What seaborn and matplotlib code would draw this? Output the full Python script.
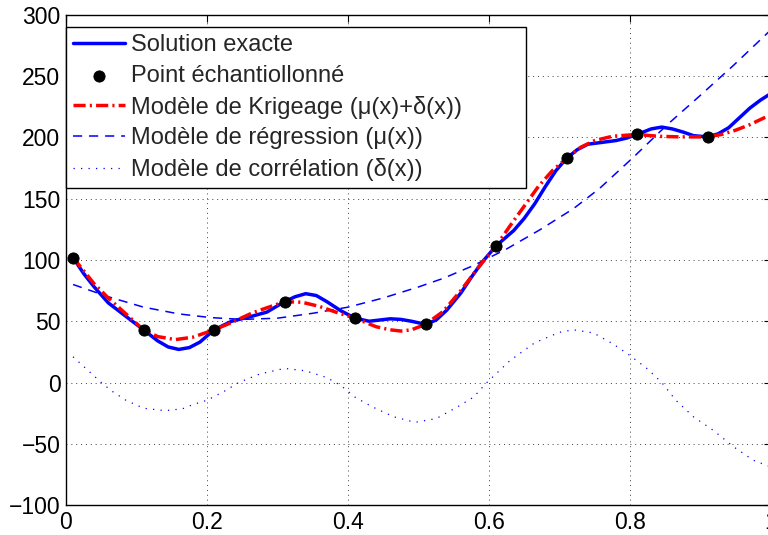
import matplotlib
matplotlib.use("Agg")
import matplotlib.pyplot as plt
import seaborn as sns

# Sampled points of the design of experiments
x_samples = [0.01, 0.11, 0.21, 0.31, 0.41, 0.51, 0.61, 0.71, 0.81, 0.91]
y_samples = [102, 43, 43, 66, 52.5, 47.5, 111.5, 183, 202.5, 200.5]

# Exact response
x_exact = [0.01, 0.025, 0.04, 0.06, 0.085, 0.11, 0.13, 0.145, 0.16, 0.175,
           0.19, 0.21, 0.235, 0.26, 0.285, 0.31, 0.325, 0.34, 0.355, 0.37,
           0.39, 0.41, 0.43, 0.445, 0.46, 0.475, 0.49, 0.51, 0.525, 0.54,
           0.56, 0.575, 0.59, 0.61, 0.635, 0.65, 0.665, 0.68, 0.695, 0.71,
           0.725, 0.74, 0.76, 0.78, 0.795, 0.81, 0.83, 0.845, 0.86, 0.875,
           0.89, 0.91, 0.925, 0.94, 0.955, 0.97, 0.985, 1.0]
y_exact = [102, 89, 78, 65, 54, 43, 34, 29, 27, 28.5,
           33, 43, 50, 53.5, 57.5, 66, 70, 72.5, 71, 66,
           58.5, 52.5, 50, 51, 52, 51.5, 50, 47.5, 51, 59,
           73, 86, 98, 111.5, 124, 134, 146, 160, 173, 183,
           190, 194.5, 196, 197.5, 199.5, 202.5, 207, 208.5, 207, 204.5,
           201.5, 200.5, 203, 208, 216, 224, 230.5, 236]

# Kriging model mu(x) + delta(x)
x_krig = [0.01, 0.04, 0.06, 0.085, 0.11, 0.13, 0.155, 0.18, 0.21, 0.235,
          0.265, 0.29, 0.31, 0.335, 0.36, 0.385, 0.41, 0.44, 0.46, 0.475,
          0.49, 0.51, 0.535, 0.56, 0.585, 0.61, 0.63, 0.65, 0.67, 0.69,
          0.71, 0.73, 0.75, 0.775, 0.81, 0.84, 0.87, 0.91, 0.93, 0.95,
          0.97, 0.99, 1.0]
y_krig = [102, 80.5, 69, 56, 43, 37.5, 35, 37, 43, 49,
          57, 62, 66, 65.5, 62, 57, 52.5, 45.5, 43, 42,
          43, 47.5, 58, 75, 94, 111.5, 128, 144, 160, 173,
          183, 192, 197.5, 201, 202.5, 201, 200.5, 200.5, 202.5, 206,
          210.5, 216, 218.5]

# Regression model mu(x)
x_reg = [0.01, 0.06, 0.11, 0.16, 0.205, 0.25, 0.30, 0.35, 0.40, 0.45,
         0.50, 0.535, 0.578, 0.625, 0.672, 0.72, 0.757, 0.805, 0.852, 0.899,
         0.947, 1.0]
y_reg = [80, 70, 61.5, 56, 53, 51.5, 52.5, 56.5, 61.5, 69,
         78, 85, 95.5, 109, 124.6, 142, 158.5, 184, 210, 234,
         259, 288]

# Correlation model delta(x)
x_corr = [0.01, 0.03, 0.05, 0.065, 0.085, 0.11, 0.14, 0.165, 0.18, 0.2,
          0.225, 0.245, 0.275, 0.31, 0.34, 0.37, 0.39, 0.41, 0.435, 0.465,
          0.495, 0.525, 0.555, 0.578, 0.597, 0.63, 0.665, 0.70, 0.72, 0.748,
          0.776, 0.80, 0.825, 0.845, 0.865, 0.89, 0.918, 0.947, 0.975, 1.0]
y_corr = [21, 10.5, 0, -7, -14.5, -21, -23, -21.5, -18, -14.5,
          -7, 0, 7, 11.5, 9.5, 4, -2.5, -12, -20, -28,
          -32.5, -29.5, -20, -12, 0, 18, 32.5, 41, 43, 40.5,
          31.5, 22, 11, 0, -14.5, -28, -39, -52.5, -63.5, -69]

x_ticks = [0, 0.2, 0.4, 0.6, 0.8, 1.0]
x_ticklabels = ["0", "0.2", "0.4", "0.6", "0.8", "1"]
y_ticks = [-100, -50, 0, 50, 100, 150, 200, 250, 300]

labels = ["Solution exacte",
          "Point échantiollonné",
          "Modèle de Krigeage (μ(x)+δ(x))",
          "Modèle de régression (μ(x))",
          "Modèle de corrélation (δ(x))"]

sns.set_style("white")
plt.rcParams["font.family"] = ["Liberation Sans", "DejaVu Sans"]
plt.rcParams["axes.unicode_minus"] = True

fig = plt.figure(figsize=(7.68, 5.35), dpi=100)
ax = fig.add_axes([66 / 768, 30 / 535, 705 / 768, 490 / 535])

sns.lineplot(x=x_exact, y=y_exact, ax=ax, color="#0000ff", linewidth=2.5,
             estimator=None, label=labels[0], zorder=3)
sns.scatterplot(x=x_samples, y=y_samples, ax=ax, color="black", edgecolor="black",
                s=65, label=labels[1], zorder=6)
sns.lineplot(x=x_krig, y=y_krig, ax=ax, color="#ff0000", linewidth=2.5,
             linestyle=(0, (3.5, 1.2, 0.6, 1.2)), estimator=None,
             label=labels[2], zorder=4)
sns.lineplot(x=x_reg, y=y_reg, ax=ax, color="#0000ff", linewidth=1.1,
             linestyle=(0, (6, 4.5)), estimator=None, label=labels[3], zorder=2)
sns.lineplot(x=x_corr, y=y_corr, ax=ax, color="#0000ff", linewidth=0.9,
             linestyle=(0, (1, 5)), estimator=None, label=labels[4], zorder=2)

ax.set_xlim(0, 1)
ax.set_ylim(-100, 300)
ax.set_xticks(x_ticks)
ax.set_xticklabels(x_ticklabels)
ax.set_yticks(y_ticks)
ax.set_axisbelow(True)
ax.grid(True, linestyle=(0, (1, 4)), color="0.25", linewidth=0.7)
ax.tick_params(direction="in", length=5, width=0.8, top=True, right=True,
               labelsize=16.5, colors="black", pad=4)
for sp in ax.spines.values():
    sp.set_color("black")
    sp.set_linewidth(1.0)

# Legend box spans from the left spine to x ~ 526 px, y 27..189 px
leg_top = (505 - 27) / 490
leg_h = (189 - 27) / 490
leg_w = (526 - 66) / 705
leg = ax.legend(loc="upper left", bbox_to_anchor=(0, leg_top - leg_h, leg_w, leg_h),
                mode="expand", borderaxespad=0, fontsize=17, frameon=True,
                fancybox=False, edgecolor="black", framealpha=1,
                handlelength=2.2, handletextpad=0.25, labelspacing=0.37,
                borderpad=0.3, scatterpoints=1)
leg.get_frame().set_linewidth(1.0)

fig.savefig("out.png", dpi=100)
